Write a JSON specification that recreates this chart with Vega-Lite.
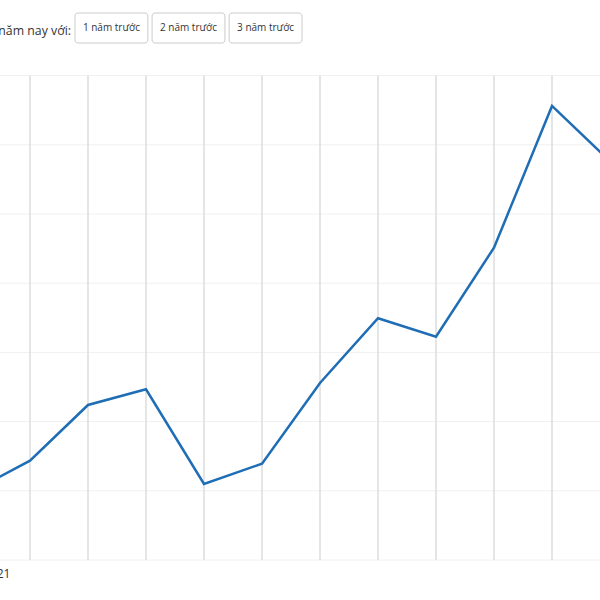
{
  "$schema": "https://vega.github.io/schema/vega-lite/v6.json",
  "width": 600,
  "height": 600,
  "autosize": "none",
  "padding": 0,
  "background": "white",
  "config": {"view": {"stroke": null}, "font": "Open Sans"},
  "title": {
    "text": "So sánh năm nay với:",
    "anchor": "start",
    "frame": "group",
    "align": "right",
    "baseline": "middle",
    "dx": 71,
    "dy": 43,
    "offset": 0,
    "fontSize": 12.3,
    "fontWeight": "normal",
    "color": "#333333"
  },
  "datasets": {
    "series": [
      {"k": -1, "v": 0.988},
      {"k": 0, "v": 1.435},
      {"k": 1, "v": 2.24},
      {"k": 2, "v": 2.467},
      {"k": 3, "v": 1.098},
      {"k": 4, "v": 1.392},
      {"k": 5, "v": 2.558},
      {"k": 6, "v": 3.493},
      {"k": 7, "v": 3.227},
      {"k": 8, "v": 4.513},
      {"k": 9, "v": 6.561},
      {"k": 10, "v": 5.763}
    ],
    "vgrid": [{"k": 0}, {"k": 1}, {"k": 2}, {"k": 3}, {"k": 4}, {"k": 5}, {"k": 6}, {"k": 7}, {"k": 8}, {"k": 9}],
    "hgrid": [{"v": 0}, {"v": 1}, {"v": 2}, {"v": 3}, {"v": 4}, {"v": 5}, {"v": 6}, {"v": 7}],
    "buttons": [
      {"label": "1 năm trước", "row": "a"},
      {"label": "2 năm trước", "row": "a"},
      {"label": "3 năm trước", "row": "a"}
    ]
  },
  "layer": [
    {
      "layer": [
        {
          "data": {"name": "hgrid"},
          "mark": {"type": "rule", "color": "#f0f0f0", "strokeWidth": 1},
          "encoding": {
            "y": {"field": "v", "type": "quantitative", "scale": {"domain": [-0.578, 8.092], "nice": false, "zero": false}, "axis": null}
          }
        },
        {
          "data": {"name": "vgrid"},
          "mark": {"type": "rule", "color": "#dddddd", "strokeWidth": 1.5},
          "encoding": {
            "x": {"field": "k", "type": "quantitative", "scale": {"domain": [-0.5172, 9.8276], "nice": false, "zero": false},
              "axis": {"values": [-0.345], "labelExpr": "'2021'", "labelAlign": "right", "labelBaseline": "middle", "ticks": false, "domain": false, "grid": false, "offset": -40, "labelFontSize": 12, "labelColor": "#333333", "labelPadding": 13, "labelFlush": false, "labelOverlap": false, "title": null}},
            "y": {"datum": 0, "type": "quantitative", "axis": null},
            "y2": {"datum": 7}
          }
        },
        {
          "data": {"name": "series"},
          "mark": {"type": "line", "color": "#1f6db5", "strokeWidth": 2.5, "clip": true},
          "encoding": {
            "x": {"field": "k", "type": "quantitative", "scale": {"domain": [-0.5172, 9.8276], "nice": false, "zero": false},
              "axis": {"values": [-0.345], "labelExpr": "'2021'", "labelAlign": "right", "labelBaseline": "middle", "ticks": false, "domain": false, "grid": false, "offset": -40, "labelFontSize": 12, "labelColor": "#333333", "labelPadding": 13, "labelFlush": false, "labelOverlap": false, "title": null}},
            "y": {"field": "v", "type": "quantitative", "axis": null}
          }
        }
      ]
    },
    {
      "data": {"name": "buttons"},
      "encoding": {
        "x": {"field": "label", "type": "nominal", "sort": null, "scale": {"range": [75, 302], "paddingInner": 0.055, "paddingOuter": 0}, "axis": null},
        "y": {"field": "row", "type": "nominal", "scale": {"range": [13, 43], "paddingInner": 0, "paddingOuter": 0}, "axis": null}
      },
      "layer": [
        {"mark": {"type": "rect", "fill": "white", "stroke": "#cccccc", "strokeWidth": 1, "cornerRadius": 3}},
        {"mark": {"type": "text", "fontSize": 10, "color": "#333333"}, "encoding": {"text": {"field": "label"}}}
      ]
    }
  ],
  "resolve": {"scale": {"x": "independent", "y": "independent"}}
}
